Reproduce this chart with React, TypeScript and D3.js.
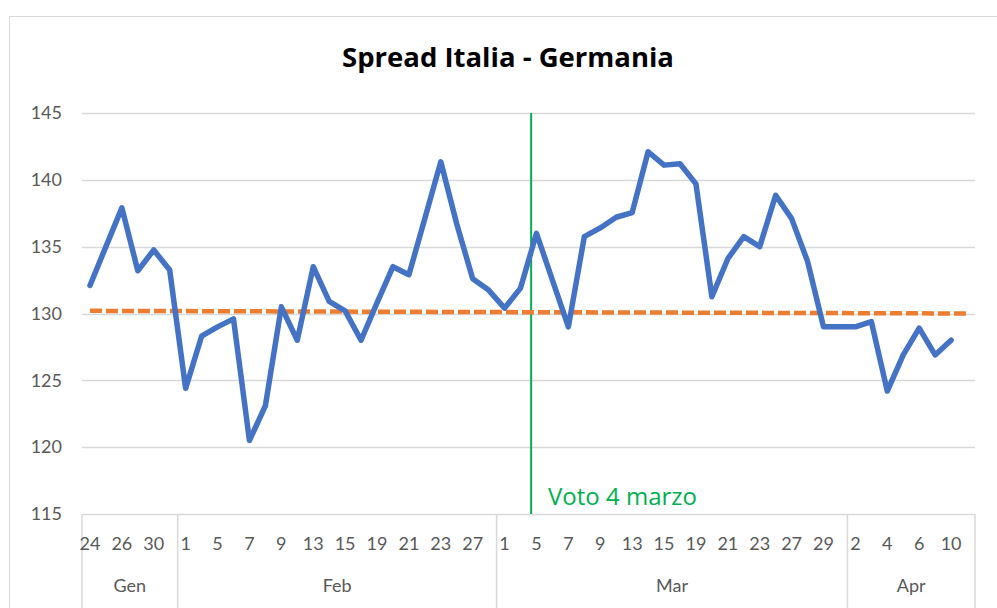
import * as d3 from "d3";

const W = 997;
const H = 608;
const margin = { left: 82, right: 975, top: 113, bottom: 514 };

// giorni lavorativi per mese (categorie dell'asse)
const genDays = [24, 25, 26, 29, 30, 31];
const febDays = [1, 2, 5, 6, 7, 8, 9, 12, 13, 14, 15, 16, 19, 20, 21, 22, 23, 26, 27, 28];
const marDays = [1, 2, 5, 6, 7, 8, 9, 12, 13, 14, 15, 16, 19, 20, 21, 22, 23, 26, 27, 28, 29, 30];
const aprDays = [2, 3, 4, 5, 6, 9, 10, 11];
const monthNames = ["Gen", "Feb", "Mar", "Apr"];

const genSpread = [132.1, 135.0, 137.9, 133.2, 134.75, 133.25];
const febSpread = [124.4, 128.3, 129.0, 129.6, 120.5, 123.1, 130.5, 128.0, 133.5, 130.9, 130.2, 128.0, 130.8, 133.5, 132.9, 137.1, 141.35, 136.7, 132.6, 131.75];
const marSpread = [130.4, 131.9, 136.0, 132.5, 129.0, 135.75, 136.4, 137.2, 137.55, 142.1, 141.1, 141.2, 139.7, 131.25, 134.1, 135.75, 135.0, 138.85, 137.1, 133.9, 129.0, 129.0];
const aprSpread = [129.0, 129.4, 124.2, 126.9, 128.9, 126.9, 128.0, null];

// linea di tendenza (primo e ultimo valore)
const trendValues = [130.2, 130.0];
const yTicks = [115, 120, 125, 130, 135, 140, 145];

const months = [genDays, febDays, marDays, aprDays];
const spreads = [genSpread, febSpread, marSpread, aprSpread];

const categories: { key: string; day: number; month: number }[] = [];
months.forEach((days, m) => days.forEach((d) => categories.push({ key: `${m}-${d}`, day: d, month: m })));
const values: (number | null)[] = spreads.flat();

const x = d3
  .scaleBand<string>()
  .domain(categories.map((c) => c.key))
  .range([margin.left, margin.right])
  .padding(0);
const cx = (i: number) => (x(categories[i].key) as number) + x.bandwidth() / 2;

const y = d3.scaleLinear().domain([115, 145]).range([margin.bottom, margin.top]);

const line = d3
  .line<number | null>()
  .defined((d) => d !== null)
  .x((_, i) => cx(i))
  .y((d) => y(d as number));

// voto 4 marzo: tra 2 marzo (ven) e 5 marzo (lun)
const mar2 = categories.findIndex((c) => c.month === 2 && c.day === 2);
const voteX = cx(mar2) + (2 / 3) * (cx(mar2 + 1) - cx(mar2));

const font = "Lato, 'Open Sans', sans-serif";
const titleFont = "'Open Sans', Lato, sans-serif";

export default function App() {
  const bounds: number[] = [margin.left];
  let acc = 0;
  const monthMid: number[] = [];
  months.forEach((days) => {
    const start = (x(categories[acc].key) as number);
    acc += days.length;
    const end = acc < categories.length ? (x(categories[acc].key) as number) : margin.right;
    bounds.push(end);
    monthMid.push((start + end) / 2);
  });

  return (
    <svg width={W} height={H} style={{ position: "absolute", left: 0, top: 0, background: "#fff" }}>
      <rect x={9.5} y={16.5} width={W + 20} height={H + 20} fill="#fff" stroke="#d9d9d9" />
      <text x={508} y={67} textAnchor="middle" fontFamily={titleFont} fontWeight="bold" fontSize={27.5} fill="#000">
        Spread Italia - Germania
      </text>

      {yTicks.map((t) => (
        <g key={t}>
          <line x1={margin.left} x2={margin.right} y1={Math.round(y(t)) + 0.5} y2={Math.round(y(t)) + 0.5} stroke="#d9d9d9" strokeWidth={1.3} />
          <text x={62} y={y(t)} dy="0.35em" textAnchor="end" fontFamily={font} fontSize={18} fill="#595959">
            {t}
          </text>
        </g>
      ))}

      {bounds.map((b, i) => (
        <line key={i} x1={b} x2={b} y1={margin.bottom} y2={H} stroke="#d9d9d9" strokeWidth={1.5} />
      ))}

      {categories.map((c, i) =>
        i % 2 === 0 ? (
          <text key={c.key} x={cx(i)} y={544} dy="0.35em" textAnchor="middle" fontFamily={font} fontSize={18} fill="#595959">
            {c.day}
          </text>
        ) : null
      )}
      {monthNames.map((m, i) => (
        <text key={m} x={monthMid[i]} y={586} dy="0.35em" textAnchor="middle" fontFamily={font} fontSize={18} fill="#595959">
          {m}
        </text>
      ))}

      <line x1={voteX} x2={voteX} y1={margin.top} y2={margin.bottom} stroke="#00b050" strokeWidth={2} />
      <text x={548} y={505} fontFamily={titleFont} fontSize={24} fill="#00b050">
        Voto 4 marzo
      </text>

      <line
        x1={cx(0)}
        x2={cx(categories.length - 1)}
        y1={y(trendValues[0])}
        y2={y(trendValues[1])}
        stroke="#ed7d31"
        strokeWidth={4.5}
        strokeDasharray="12 4"
      />
      <path d={line(values) ?? ""} fill="none" stroke="#4472c4" strokeWidth={5.5} strokeLinejoin="round" strokeLinecap="round" />
    </svg>
  );
}
